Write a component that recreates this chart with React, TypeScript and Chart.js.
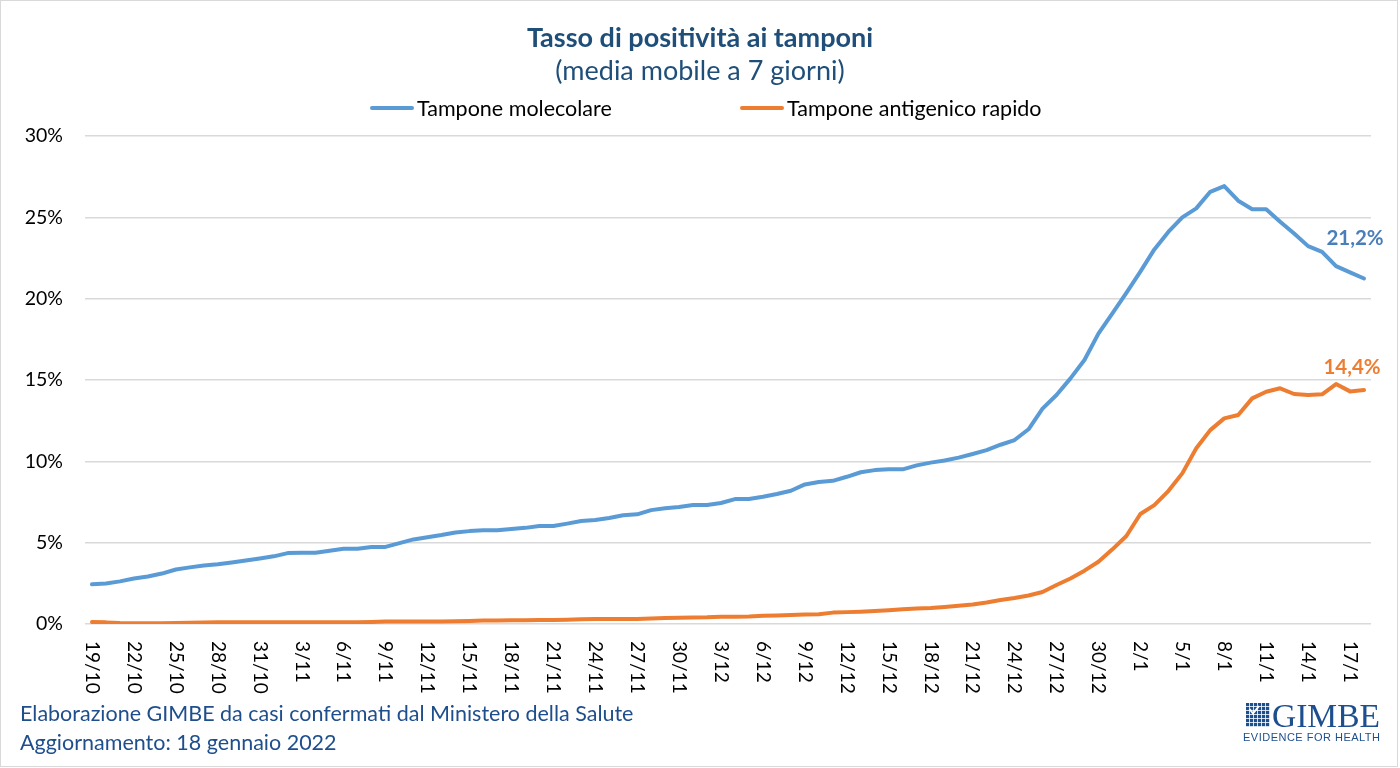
import React, { useEffect, useRef } from "react";
import { Chart, registerables } from "chart.js";
Chart.register(...registerables);

const dates = [
  "19/10","20/10","21/10","22/10","23/10","24/10","25/10","26/10","27/10","28/10","29/10","30/10","31/10",
  "1/11","2/11","3/11","4/11","5/11","6/11","7/11","8/11","9/11","10/11","11/11","12/11","13/11","14/11","15/11",
  "16/11","17/11","18/11","19/11","20/11","21/11","22/11","23/11","24/11","25/11","26/11","27/11","28/11","29/11","30/11",
  "1/12","2/12","3/12","4/12","5/12","6/12","7/12","8/12","9/12","10/12","11/12","12/12","13/12","14/12","15/12",
  "16/12","17/12","18/12","19/12","20/12","21/12","22/12","23/12","24/12","25/12","26/12","27/12","28/12","29/12","30/12","31/12",
  "1/1","2/1","3/1","4/1","5/1","6/1","7/1","8/1","9/1","10/1","11/1","12/1","13/1","14/1","15/1","16/1","17/1","18/1",
];

const molecolare = [
  2.44, 2.49, 2.62, 2.80, 2.92, 3.10, 3.35, 3.48, 3.60, 3.67,
  3.78, 3.90, 4.03, 4.16, 4.36, 4.38, 4.38, 4.50, 4.62, 4.62,
  4.74, 4.74, 4.97, 5.20, 5.33, 5.47, 5.63, 5.71, 5.77, 5.77,
  5.84, 5.91, 6.02, 6.02, 6.17, 6.33, 6.39, 6.52, 6.68, 6.74,
  7.00, 7.12, 7.19, 7.31, 7.31, 7.44, 7.68, 7.68, 7.82, 7.99,
  8.19, 8.58, 8.73, 8.80, 9.05, 9.33, 9.46, 9.51, 9.51, 9.75,
  9.92, 10.05, 10.23, 10.45, 10.69, 11.02, 11.31, 11.97, 13.24, 14.08,
  15.10, 16.23, 17.85, 19.10, 20.35, 21.66, 23.03, 24.10, 25.00, 25.55,
  26.57, 26.92, 26.02, 25.50, 25.50, 24.73, 24.00, 23.23, 22.88, 22.00,
  21.62, 21.24,
];

const antigenico = [
  0.12, 0.10, 0.06, 0.04, 0.05, 0.05, 0.06, 0.08, 0.09, 0.10,
  0.10, 0.10, 0.10, 0.10, 0.10, 0.10, 0.10, 0.10, 0.10, 0.11,
  0.13, 0.15, 0.16, 0.16, 0.16, 0.16, 0.17, 0.19, 0.22, 0.22,
  0.23, 0.23, 0.24, 0.24, 0.26, 0.29, 0.30, 0.30, 0.31, 0.31,
  0.34, 0.37, 0.39, 0.40, 0.41, 0.44, 0.45, 0.46, 0.50, 0.52,
  0.55, 0.58, 0.60, 0.70, 0.73, 0.76, 0.80, 0.85, 0.90, 0.95,
  0.99, 1.05, 1.12, 1.20, 1.32, 1.48, 1.60, 1.75, 1.97, 2.40,
  2.80, 3.28, 3.83, 4.59, 5.41, 6.76, 7.31, 8.17, 9.26, 10.80,
  11.92, 12.64, 12.85, 13.87, 14.28, 14.49, 14.14, 14.08, 14.12, 14.75,
  14.30, 14.38,
];

const seriesNames = ["Tampone molecolare", "Tampone antigenico rapido"];
const seriesColors = ["#5B9BD5", "#ED7D31"];
const endLabelColors = ["#4A7EBB", "#ED7D31"];
const endLabelOffsets = [
  { dx: -9, dy: -40 },
  { dx: -12, dy: -23 },
];
const yMin = 0;
const yMax = 30;
const yStep = 5;
const xTickEvery = 3;

const titleText = "Tasso di positività ai tamponi";
const subtitleText = "(media mobile a 7 giorni)";
const footer1 = "Elaborazione GIMBE da casi confermati dal Ministero della Salute";
const footer2 = "Aggiornamento: 18 gennaio 2022";

const FONT = "Lato, 'Open Sans', sans-serif";

const xLabelPlugin = {
  id: "xLabelsVertical",
  afterDraw(chart: any) {
    const xs = chart.scales.x;
    const ctx = chart.ctx;
    ctx.save();
    ctx.font = "19px Lato";
    ctx.fillStyle = "#000";
    ctx.textAlign = "left";
    ctx.textBaseline = "middle";
    dates.forEach((d, i) => {
      if (i % xTickEvery !== 0) return;
      const x = xs.getPixelForValue(i);
      ctx.save();
      ctx.translate(x, chart.chartArea.bottom + 17);
      ctx.rotate(Math.PI / 2);
      ctx.fillText(d, 0, 0);
      ctx.restore();
    });
    ctx.restore();
  },
};

const endLabelPlugin = {
  id: "endLabels",
  afterDatasetsDraw(chart: any) {
    const ctx = chart.ctx;
    ctx.save();
    ctx.font = "bold 20.5px Lato";
    ctx.textAlign = "center";
    ctx.textBaseline = "middle";
    chart.data.datasets.forEach((ds: any, i: number) => {
      const meta = chart.getDatasetMeta(i);
      const pt = meta.data[meta.data.length - 1];
      const v = ds.data[ds.data.length - 1] as number;
      const text = v.toFixed(1).replace(".", ",") + "%";
      ctx.fillStyle = endLabelColors[i];
      ctx.fillText(text, pt.x + endLabelOffsets[i].dx, pt.y + endLabelOffsets[i].dy);
    });
    ctx.restore();
  },
};

function Logo() {
  const squares: React.ReactElement[] = [];
  for (let r = 0; r < 6; r++) {
    for (let c = 0; c < 6; c++) {
      squares.push(
        <rect key={r + "-" + c} x={6 + c * 4} y={8 + r * 4} width={3.2} height={3.2} fill="#1d4f8f" />
      );
    }
  }
  return (
    <svg
      width={150}
      height={55}
      style={{ position: "absolute", left: 1240, top: 695 }}
    >
      {squares}
      <path d="M9.5 14 L13 18.5 L19 11" stroke="#fff" strokeWidth={2} fill="none" />
      <text
        x={32}
        y={32}
        fontFamily="'Liberation Serif', 'DejaVu Serif', serif"
        fontSize={34}
        fill="#1d4f8f"
        textLength={108}
        lengthAdjust="spacingAndGlyphs"
      >
        GIMBE
      </text>
      <text
        x={3}
        y={46}
        fontFamily="'Liberation Sans', sans-serif"
        fontSize={11}
        fill="#1d4f8f"
        textLength={137}
        lengthAdjust="spacing"
      >
        EVIDENCE FOR HEALTH
      </text>
    </svg>
  );
}

export default function App() {
  const canvasRef = useRef<HTMLCanvasElement | null>(null);

  useEffect(() => {
    if (!canvasRef.current) return;
    const chart = new Chart(canvasRef.current, {
      type: "line",
      data: {
        labels: dates,
        datasets: seriesNames.map((name, i) => ({
          label: name,
          data: i === 0 ? molecolare : antigenico,
          borderColor: seriesColors[i],
          backgroundColor: seriesColors[i],
          borderWidth: 4,
          pointRadius: 0,
          pointHoverRadius: 0,
          tension: 0,
          borderJoinStyle: "round" as const,
          borderCapStyle: "round" as const,
          fill: false,
        })),
      },
      options: {
        responsive: false,
        animation: false,
        events: [],
        layout: { padding: { left: 0, right: 29, top: 136, bottom: 144 } },
        plugins: {
          legend: { display: false },
          title: { display: false },
          tooltip: { enabled: false },
        },
        scales: {
          x: {
            type: "category",
            offset: true,
            grid: { display: false, drawTicks: false },
            border: { display: false },
            ticks: { display: false },
          },
          y: {
            min: yMin,
            max: yMax,
            afterFit(scale: any) {
              scale.width = 85;
            },
            grid: { color: "#d9d9d9", lineWidth: 1.5, drawTicks: false },
            border: { display: false },
            ticks: {
              stepSize: yStep,
              padding: 22,
              color: "#000",
              font: { family: "Lato", size: 19.5 },
              callback: (v: any) => v + "%",
            },
          },
        },
      },
      plugins: [xLabelPlugin, endLabelPlugin],
    });
    return () => chart.destroy();
  }, []);

  return (
    <div
      style={{
        position: "absolute",
        left: 0,
        top: 0,
        width: 1400,
        height: 768,
        background: "#fff",
        overflow: "hidden",
        fontFamily: FONT,
      }}
    >
      <canvas
        ref={canvasRef}
        width={1400}
        height={768}
        style={{ position: "absolute", left: 0, top: 0, width: 1400, height: 768, display: "block" }}
      />
      <div
        style={{
          position: "absolute",
          left: 0,
          top: 0,
          width: 1398,
          height: 767,
          boxSizing: "border-box",
          border: "1px solid #d9d9d9",
          pointerEvents: "none",
        }}
      />
      <div
        style={{
          position: "absolute",
          left: 0,
          top: 22,
          width: 1400,
          textAlign: "center",
          fontSize: 27,
          lineHeight: "30px",
          fontWeight: 700,
          color: "#1F4E79",
        }}
      >
        {titleText}
      </div>
      <div
        style={{
          position: "absolute",
          left: 0,
          top: 55,
          width: 1400,
          textAlign: "center",
          fontSize: 27,
          lineHeight: "30px",
          color: "#1F4E79",
        }}
      >
        {subtitleText}
      </div>
      {seriesNames.map((name, i) => (
        <div
          key={name}
          style={{
            position: "absolute",
            left: i === 0 ? 370 : 740,
            top: 94,
            height: 28,
            display: "flex",
            alignItems: "center",
            whiteSpace: "nowrap",
          }}
        >
          <span style={{ display: "inline-block", width: 44, height: 4, background: seriesColors[i], borderRadius: 2 }} />
          <span style={{ marginLeft: 3, fontSize: 21.5, lineHeight: "28px", color: "#000" }}>{name}</span>
        </div>
      ))}
      <div
        style={{
          position: "absolute",
          left: 20,
          top: 699,
          fontSize: 21.5,
          lineHeight: "28px",
          color: "#1F4E8C",
          whiteSpace: "nowrap",
        }}
      >
        {footer1}
      </div>
      <div
        style={{
          position: "absolute",
          left: 20,
          top: 728,
          fontSize: 21.5,
          lineHeight: "28px",
          color: "#1F4E8C",
          whiteSpace: "nowrap",
        }}
      >
        {footer2}
      </div>
      <Logo />
    </div>
  );
}
